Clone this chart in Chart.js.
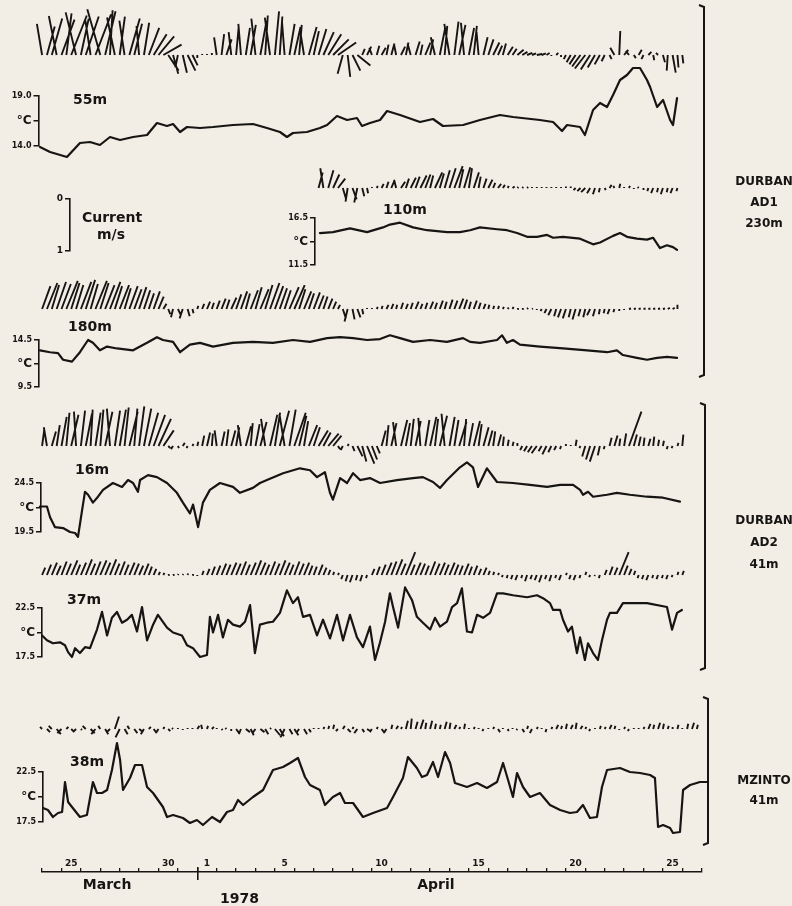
<!DOCTYPE html>
<html>
<head>
<meta charset="utf-8">
<script src="https://cdn.jsdelivr.net/npm/chart.js@4.4.0/dist/chart.umd.min.js"></script>
<style>
  html, body { margin: 0; padding: 0; background: #f2eee6; }
  canvas { display: block; }
</style>
</head>
<body>
<canvas id="fig" width="792" height="906"></canvas>
<script>
// ---- time axis (days counted so that 1 April 00:00 = 31) ----
var dateLabelPos = [24.5, 29.5, 31.5, 35.5, 40.5, 45.5, 50.5, 55.5];
var dateLabels   = ['25', '30', '1', '5', '10', '15', '20', '25'];
var monthPos     = [26.35, 43.3, 33.17];
var monthLabels  = ['March', 'April', ['', '1978']];

// ---- current sticks, cm/s, one every 6 h (u = east, v = north) ----
var v55 = [60, 55, 70, 75,  68, 80, 76, 82,  70, 74, 66, 78,  88, 84, 86, 72,  74, 66, 70, 60,
  56, 62, 52, 40,  36, 20, -30, -36,  -24, -34, -30, -20,  -6, 2, 2, 4,  34, 40, 30, 44,
  54, 60, 52, 58,  70, 66, 76, 72,  84, 74, 64, 60,  54, 58, 50, 54,  46, 50, 44, 40,
  30, 24, -36, -42,  -30, -20, 12, 16,  14, 18, 14, 20,  22, 20, 16, 24,  22, 26, 20, 24,
  30, 34, 50, 56,  60, 64, 58, 62,  52, 56, 44, 34,  30, 24, 18, 22,  16, 12, 10, 6,
  4, 3, 2, 3,  4, -2, 4, -4,  -8, -14, -18, -22,  -26, -28, -24, -18,  -12, -8, 14, 46,
  10, 8, -6, 10,  -8, 6, -10, 4,  -14, -30, -34, -24,  -16];
var u55 = [-10, 15, 20, -15,  25, 10, 30, -20,  15, 25, -10, 30,  -25, 20, 5, -15,  10, -10, 20, 15,
  -5, 10, 20, 25,  30, 35, 20, 10,  -5, 8, 15, 10,  0, 0, 0, 0,  -5, 5, 10, -5,
  5, -5, 8, 10,  -8, 12, 5, -10,  8, 5, -5, 10,  12, 5, -8, 15,  10, 15, 20, 25,
  30, 35, -10, 5,  15, 25, 5, 8,  -5, 5, 8, 4,  6, -4, 8, 5,  -6, 8, 4, 10,
  6, -8, 10, 5,  -10, 8, 12, -6,  10, 6, -4, 8,  10, 12, 8, 6,  10, 8, 12, 10,
  10, 8, 10, 8,  6, 0, 4, 0,  -4, -8, -12, -16,  -20, -18, -14, -10,  -6, 4, -8, 2,
  8, -6, 4, 6,  -4, 6, 2, -4,  4, -2, 6, 2,  2];

var v110 = [30, 38, 34, 26, 18,  -20, -26, -22, -28, -16, -10,  2, 4, 8,
  12, 14, 16, 12,  18, 20, 22, 24,  26, 24, 30, 28,  34, 38, 42, 36,  40, 38, 30, 22,
  18, 16, 10, 8,  6, 4, 3, 2,  2, 2, 2, 2, 2, 2, 2, 2, 2, 3, 3,
  -4, -6, -8, -10, -12, -8,  -4, 6, 4, 8, 2,  4, -2, 2, -4,  -6, -10, -8, -12, -8, -10, -6];
var u110 = [8, -6, 10, 12, 14,  6, -4, 8, -6, 4, 2,  0, 2, 4,
  4, 6, -4, 8,  6, 10, 8, 12,  10, 6, 14, 8,  10, 12, 16, 8,  12, 6, 10, 4,
  6, 8, 4, 6,  4, 2, 4, 2,  2, 2, 0, 0, 0, 0, 0, 0, 0, 0, 0,
  -4, -6, -8, -6, -4, -2,  2, 4, -2, 2, 0,  2, 0, -2, 0,  -2, -4, -2, -4, -2, -4, -2];

var v180 = [44, 50, 46, 52,  48, 54, 50, 46,  52, 56, 48, 54,  50, 46, 52, 44,  46, 40, 44, 38,
  42, 36, 30, 34,  24, 10, -10, -16,  -12, -18, -14, -8,  6, 10, 14, 12,  16, 20, 18, 22,
  28, 34, 30, 36,  42, 38, 46, 50,  44, 40, 36, 42,  46, 38, 34, 30,  32, 26, 24, 20,
  14, 8, -18, -24,  -20, -16, -10, 2,  2, 4, 6, 8,  10, 8, 12, 10,  12, 14, 10, 12,
  14, 12, 16, 14,  18, 16, 20, 18,  14, 16, 12, 10,  8, 6, 6, 4,  3, 4, 2, 2,
  2, 1, -2, -4,  -8, -12, -14, -16,  -18, -16, -20, -14,  -16, -12, -14, -10,  -8, -10, -6, -4,
  -2, 1, 1, 1,  1, 1, 1, 1,  1, 2, 2, 8];
var u180 = [16, 20, 14, 18,  18, 22, 16, 14,  20, 18, 14, 22,  16, 18, 20, 14,  18, 12, 16, 14,
  14, 12, 10, 12,  10, 6, 4, -4,  6, -6, 4, 2,  2, 4, 6, 4,  6, 8, 6, 10,
  10, 12, 8, 14,  12, 16, 14, 18,  16, 14, 12, 18,  20, 12, 14, 10,  12, 10, 8, 8,
  6, 4, 6, -6,  4, 6, 2, 0,  0, 2, 2, 4,  4, 2, 4, 4,  4, 6, 4, 4,
  6, 4, 6, 4,  6, 6, 8, 6,  4, 6, 4, 4,  2, 2, 2, 2,  2, 2, 1, 1,
  2, 2, 0, -2,  -4, -6, -4, -6,  -6, -4, -6, -4,  -4, -6, -4, -2,  -2, -4, -2, 0,
  0, 4, 4, 4,  4, 4, 4, 4,  4, 4, 4, 0];

var v16 = [30, 36, 28, 40,  56, 64, 60, 66,  68, 62, 70, 64,  70, 66, 72, 68,  70, 74, 66, 72,
  76, 72, 64, 60,  52, 30, -4, -6,  -4, 6, -4, 4,  8, 20, 26, 24,  30, 28, 32, 30,
  36, 40, 38, 44,  42, 46, 52, 60,  64, 68, 62, 70,  64, 58, 48, 40,  36, 30, 26, 24,
  20, -6, -8, 4,  -10, -20, -30, -34,  -26, -14, 30, 40,  44, 46, 50, 44,  52, 48, 54, 50,
  56, 52, 58, 62,  56, 50, 46, 52,  44, 48, 42, 36,  30, 28, 22, 18,  12, 8, 6, -8,
  -10, -12, -14, -10,  -16, -12, -8, -6,  4, 2, 12, -4,  -20, -26, -30, -18,  -6, 16, 20, 14,
  24, 66, 22, 18,  16, 14, 18, 12,  10, -6, -4, 6,  22];
var u16 = [4, -6, 8, 6,  10, 6, 14, -4,  8, 12, 4, 10,  6, 14, -6, 10,  12, 8, 16, 6,
  10, 14, 18, 22,  24, 20, 4, -4,  2, 4, -2, 2,  2, 4, 6, 2,  -4, 6, 4, 8,
  6, -6, 10, 4,  8, 12, -8, 14,  10, 18, -10, 12,  22, 14, 8, 16,  12, 18, 14, 20,
  16, 4, -4, 2,  4, 10, 8, 14,  10, 6, 8, 4,  10, -6, 12, 8,  6, 10, -4, 8,
  12, 6, 14, -6,  10, 8, 14, 4,  8, 12, 6, 10,  8, 4, 6, 2,  2, 2, 0, -4,
  -6, -8, -10, -6,  -8, -6, -4, -2,  0, 0, 2, -2,  -6, -8, -10, -4,  -2, 4, 6, 2,
  4, 24, 6, 4,  2, 4, 2, 2,  2, -2, -2, 2,  2];

var v37 = [14, 20, 24, 18,  26, 22, 28, 20,  24, 30, 22, 26,  28, 24, 30, 22,  26, 20, 24, 22,
  18, 22, 16, 12,  6, 4, 2, 2,  2, 2, 3, 2,  -2, 8, 12, 16,  18, 22, 20, 24,
  22, 26, 20, 24,  28, 24, 20, 26,  22, 28, 24, 20,  26, 22, 24, 18,  16, 20, 14, 10,
  6, 4, -8, -12,  -14, -10, -12, -6,  12, 16, 20, 24,  26, 30, 22, 44,  20, 24, 22, 18,
  26, 22, 24, 20,  24, 20, 18, 22,  16, 18, 12, 14,  8, 6, 4, -4,  -6, -8, -10, -6,
  -12, -8, -10, -14,  -8, -12, -6, -10,  4, -8, -10, -6,  6, -4, -2, -6,  10, 16, 14, 44,
  18, 12, 8, -6,  -8, -10, -6, -8,  -6, -8, -4, 6,  8];
var u37 = [6, 8, 10, 8,  10, 9, 12, 8,  10, 12, 9, 10,  12, 10, 12, 9,  10, 8, 10, 9,
  8, 9, 6, 5,  3, 2, 1, 1,  1, 1, 1, 1,  0, 3, 5, 6,  7, 9, 8, 10,
  9, 10, 8, 10,  11, 10, 8, 10,  9, 11, 10, 8,  10, 9, 10, 7,  6, 8, 6, 4,
  2, 2, -3, -4,  -5, -3, -4, -2,  5, 6, 8, 10,  10, 12, 9, 18,  8, 10, 9, 7,
  10, 9, 10, 8,  10, 8, 7, 9,  6, 7, 5, 6,  3, 2, 2, -2,  -2, -3, -4, -2,
  -4, -3, -4, -5,  -3, -4, -2, -4,  2, -3, -4, -2,  2, -2, -1, -2,  4, 6, 6, 18,
  7, 5, 3, -2,  -3, -4, -2, -3,  -2, -3, -2, 2,  3];

var v38 = [4, -6, 6, -10,  -8, 4, -6, -4,  -2, 6, -8, -10,  6, -10, -6, 24,  -16, -10, 6, -8,
  -6, -10, 4, -8,  -6, 4, -4, 2,  2, -2, 2, 2,  6, 8, 6, 4,  2, -2, 2, -4,
  -8, -10, -6, -12,  -8, -6, -10, 2,  -12, -14, -16, -10,  -12, -8, -10, -6,  2, 2, 4, 6,
  8, -4, 6, -6,  4, -8, -6, -4,  -6, 4, -8, -6,  8, 6, 4, 16,  20, 14, 18, 12,
  16, 10, 8, 14,  12, 8, 4, 10,  2, 4, 2, -4,  2, 4, -6, 2,  -4, 2, -2, -6,
  6, -8, 4, 2,  -6, 4, 8, 6,  10, 8, 12, 6,  4, -4, 2, 6,  4, 8, 6, -2,
  4, -4, 2, 2,  4, 10, 8, 12,  10, 6, 4, 8,  2, 10, 12, 8];
var u38 = [-4, 6, -6, 8,  -8, 4, 6, -4,  2, -6, 8, -8,  -4, 6, -6, 8,  -8, 6, -4, 6,
  8, -6, 4, 6,  -4, 2, 4, -2,  0, 0, 0, 0,  4, -2, 2, 4,  0, 2, -2, 0,
  6, -4, 8, 6,  -6, 8, 6, 2,  10, 8, -8, 6,  8, -6, 6, 4,  0, 0, 2, 2,
  2, -4, 4, 6,  2, -6, 4, 6,  -4, 2, 6, -4,  2, 4, 2, 4,  2, 4, 6, 2,
  4, 2, 2, 4,  2, 4, 2, 2,  0, 2, 0, -2,  0, 2, 4, 0,  2, 0, -2, 4,
  2, -4, 2, 0,  -2, 2, 4, 2,  2, 4, 2, 4,  2, -2, 0, 2,  2, 4, 2, 0,
  2, -2, 0, 0,  2, 4, 2, 4,  2, 2, 0, 2,  0, 2, 4, 2];

// ---- temperature records: day and degC ----
var t55 = [22.89, 23.41, 24.28, 24.95, 25.47, 25.98, 26.50, 27.02, 27.69, 28.41, 28.92, 29.44, 29.75,
  30.11, 30.47, 31.14, 31.81, 32.84, 33.87, 34.59, 35.26, 35.62, 35.93, 36.65, 37.32, 37.69, 38.20,
  38.72, 39.23, 39.49, 39.90, 40.42, 40.78, 41.45, 42.48, 43.15, 43.66, 44.70, 45.57, 46.60, 47.27,
  48.66, 49.34, 49.80, 50.06, 50.73, 50.98, 51.40, 51.76, 52.12, 52.43, 52.79, 53.15, 53.46, 53.82,
  54.18, 54.34, 54.70, 55.01, 55.37, 55.52, 55.73];
var temp55 = [13.9, 13.4, 12.9, 14.3, 14.4, 14.1, 14.9, 14.6, 14.9, 15.1, 16.3, 16.0, 16.2,
  15.4, 15.9, 15.8, 15.9, 16.1, 16.2, 15.8, 15.4, 14.9, 15.3, 15.4, 15.8, 16.1, 17.0,
  16.6, 16.8, 16.0, 16.3, 16.6, 17.5, 17.1, 16.4, 16.7, 16.0, 16.1, 16.6, 17.1, 16.9,
  16.6, 16.4, 15.5, 16.1, 15.9, 15.1, 17.6, 18.3, 17.9, 19.1, 20.6, 21.1, 21.8, 21.8,
  20.6, 19.9, 17.9, 18.6, 16.6, 16.1, 18.8];

var t110 = [37.32, 37.99, 38.87, 39.75, 40.57, 40.93, 41.45, 42.12, 42.84, 43.87, 44.54, 45.06,
  45.57, 46.45, 46.96, 47.48, 48.00, 48.51, 49.03, 49.34, 49.85, 50.73, 51.40, 51.76, 52.43,
  52.79, 53.15, 53.66, 54.18, 54.49, 54.85, 55.21, 55.52, 55.73];
var temp110 = [14.9, 15.0, 15.4, 15.0, 15.5, 15.8, 16.0, 15.5, 15.2, 15.0, 15.0, 15.2,
  15.5, 15.3, 15.2, 14.9, 14.5, 14.5, 14.7, 14.4, 14.5, 14.3, 13.7, 13.9, 14.6,
  14.9, 14.5, 14.3, 14.2, 14.4, 13.3, 13.6, 13.4, 13.1];

var t180 = [22.89, 23.41, 23.82, 24.08, 24.54, 24.95, 25.37, 25.62, 25.98, 26.35, 26.86, 27.69,
  28.41, 28.92, 29.23, 29.75, 30.11, 30.62, 31.14, 31.81, 32.84, 33.87, 34.90, 35.93, 36.81,
  37.69, 38.36, 39.03, 39.75, 40.42, 40.93, 41.45, 42.12, 43.00, 43.87, 44.70, 45.06, 45.57,
  46.45, 46.71, 46.96, 47.27, 47.63, 48.66, 49.85, 51.09, 52.12, 52.63, 52.94, 53.66, 54.18,
  54.70, 55.21, 55.73];
var temp180 = [13.4, 13.2, 13.1, 12.4, 12.2, 13.2, 14.5, 14.2, 13.4, 13.8, 13.6, 13.4,
  14.2, 14.8, 14.5, 14.3, 13.2, 14.0, 14.2, 13.8, 14.2, 14.3, 14.2, 14.5, 14.3,
  14.7, 14.8, 14.7, 14.5, 14.6, 15.0, 14.7, 14.3, 14.5, 14.3, 14.7, 14.3, 14.2,
  14.5, 15.0, 14.2, 14.5, 14.0, 13.8, 13.6, 13.4, 13.2, 13.4, 12.9, 12.6, 12.4,
  12.6, 12.7, 12.6];

var t16 = [22.89, 23.25, 23.41, 23.66, 24.08, 24.44, 24.70, 24.85, 25.06, 25.21, 25.37, 25.62,
  25.88, 26.14, 26.65, 27.12, 27.43, 27.69, 27.94, 28.05, 28.46, 28.92, 29.44, 29.95, 30.26,
  30.62, 30.78, 31.04, 31.29, 31.65, 32.17, 32.84, 33.20, 33.87, 34.23, 34.59, 35.42, 36.29,
  36.81, 37.17, 37.58, 37.84, 37.99, 38.36, 38.72, 39.03, 39.39, 39.90, 40.42, 41.29, 42.12,
  42.63, 43.15, 43.51, 43.87, 44.54, 44.90, 45.21, 45.47, 45.93, 46.45, 47.27, 48.15, 49.03,
  49.70, 50.37, 50.73, 50.88, 51.14, 51.40, 52.12, 52.63, 53.30, 54.18, 55.01, 55.88];
var temp16 = [22.1, 22.1, 21.0, 20.0, 19.9, 19.5, 19.4, 19.0, 21.7, 23.6, 23.3, 22.5,
  23.1, 23.8, 24.5, 24.1, 24.8, 24.5, 23.6, 24.8, 25.3, 25.1, 24.5, 23.5, 22.5,
  21.4, 22.3, 20.0, 22.5, 23.8, 24.5, 24.1, 23.5, 24.0, 24.5, 24.8, 25.5, 26.0,
  25.8, 25.1, 25.6, 23.5, 22.8, 25.0, 24.5, 25.5, 24.8, 25.0, 24.5, 24.8, 25.0,
  25.1, 24.6, 24.0, 24.8, 26.1, 26.6, 26.1, 24.1, 26.0, 24.6, 24.5, 24.3, 24.1,
  24.3, 24.3, 23.8, 23.3, 23.6, 23.1, 23.3, 23.5, 23.3, 23.1, 23.0, 22.6];

var t37 = [23.00, 23.25, 23.56, 23.92, 24.18, 24.34, 24.54, 24.70, 24.95, 25.21,
  25.47, 25.83, 26.09, 26.35, 26.60, 26.86, 27.12, 27.38, 27.63, 27.89,
  28.15, 28.41, 28.72, 28.97, 29.44, 29.75, 30.21, 30.47, 30.78, 31.14,
  31.50, 31.65, 31.81, 32.07, 32.32, 32.58, 32.84, 33.20, 33.46, 33.72,
  33.97, 34.23, 34.59, 34.90, 35.26, 35.62, 35.93, 36.19, 36.45, 36.81,
  37.17, 37.48, 37.84, 38.20, 38.51, 38.87, 39.23, 39.54, 39.90, 40.16,
  40.42, 40.68, 40.93, 41.09, 41.35, 41.71, 42.07, 42.32, 42.63, 43.00,
  43.25, 43.51, 43.87, 44.13, 44.39, 44.64, 44.90, 45.16, 45.42, 45.73,
  46.09, 46.45, 46.76, 47.27, 48.00, 48.51, 48.82, 49.18, 49.34, 49.70,
  49.85, 50.11, 50.31, 50.57, 50.73, 50.98, 51.14, 51.40, 51.65, 51.86,
  52.12, 52.27, 52.63, 52.94, 54.18, 55.21, 55.47, 55.73, 55.98];
var temp37 = [19.7, 19.2, 18.9, 19.0, 18.7, 18.0, 17.5, 18.4, 17.9, 18.5,
  18.4, 20.3, 22.1, 19.7, 21.5, 22.1, 21.0, 21.3, 21.8, 20.1,
  22.6, 19.2, 20.8, 21.8, 20.5, 20.0, 19.7, 18.7, 18.4, 17.5,
  17.7, 21.6, 20.0, 21.8, 19.5, 21.3, 20.8, 20.6, 21.1, 22.8,
  17.9, 20.8, 21.0, 21.1, 22.0, 24.3, 23.0, 23.6, 21.6, 21.8,
  19.7, 21.3, 19.4, 21.8, 19.2, 21.8, 19.5, 18.5, 20.6, 17.2,
  19.0, 21.1, 24.0, 22.6, 20.5, 24.6, 23.3, 21.6, 21.0, 20.3,
  21.5, 20.6, 21.1, 22.6, 23.0, 24.5, 20.1, 20.0, 21.8, 21.5,
  22.0, 24.0, 24.0, 23.8, 23.6, 23.8, 23.5, 23.0, 22.3, 22.3,
  21.3, 20.1, 20.6, 17.9, 19.5, 17.2, 18.9, 17.9, 17.2, 19.2,
  21.3, 22.0, 22.0, 23.0, 23.0, 22.6, 20.3, 22.0, 22.3];

var t38 = [23.05, 23.30, 23.56, 23.82, 24.03, 24.18, 24.34, 24.54, 24.95, 25.31,
  25.62, 25.83, 26.09, 26.35, 26.60, 26.86, 27.02, 27.17, 27.53, 27.79,
  28.15, 28.41, 28.72, 29.23, 29.44, 29.75, 30.26, 30.62, 30.98, 31.29,
  31.76, 32.17, 32.53, 32.84, 33.10, 33.36, 33.87, 34.39, 34.90, 35.42,
  35.78, 36.19, 36.55, 36.81, 37.32, 37.58, 37.99, 38.36, 38.61, 39.03,
  39.54, 40.06, 40.78, 41.09, 41.60, 41.86, 42.32, 42.58, 42.84, 43.15,
  43.41, 43.77, 44.03, 44.28, 44.90, 45.42, 45.93, 46.45, 46.76, 47.02,
  47.27, 47.48, 47.79, 48.15, 48.66, 49.18, 49.70, 50.21, 50.57, 50.88,
  51.24, 51.60, 51.86, 52.12, 52.79, 53.30, 53.82, 54.34, 54.59, 54.75,
  55.01, 55.37, 55.52, 55.88, 56.04, 56.40, 56.91, 57.33];
var temp38 = [18.9, 18.7, 18.0, 18.4, 18.5, 21.5, 19.5, 19.0, 18.0, 18.2,
  21.5, 20.4, 20.4, 20.7, 22.7, 25.4, 23.7, 20.7, 21.9, 23.2,
  23.2, 21.0, 20.4, 19.0, 18.0, 18.2, 17.9, 17.4, 17.7, 17.2,
  18.0, 17.5, 18.5, 18.7, 19.7, 19.2, 20.0, 20.7, 22.7, 23.0,
  23.4, 23.9, 22.0, 21.2, 20.7, 19.2, 20.0, 20.4, 19.4, 19.4,
  18.0, 18.4, 18.9, 20.0, 21.9, 24.0, 22.9, 22.0, 22.2, 23.5,
  22.0, 24.5, 23.4, 21.4, 21.0, 21.4, 20.9, 21.5, 23.4, 21.7,
  20.0, 22.4, 21.0, 20.0, 20.4, 19.2, 18.7, 18.4, 18.5, 19.2,
  17.9, 18.0, 21.0, 22.7, 22.9, 22.5, 22.4, 22.2, 21.9, 17.0,
  17.2, 16.9, 16.4, 16.5, 20.7, 21.2, 21.5, 21.5];

var depthLabels = ['55m', '110m', '180m', '16m', '37m', '38m'];
var stations = [['DURBAN', 'AD1', '230m'], ['DURBAN', 'AD2', '41m'], ['MZINTO', '41m']];

var panels = [
  {key: '55',  start: 23,    u: u55,  v: v55,  t: t55,  temp: temp55,  lo: 14.0, hi: 19.0},
  {key: '110', start: 37.25, u: u110, v: v110, t: t110, temp: temp110, lo: 11.5, hi: 16.5},
  {key: '180', start: 23,    u: u180, v: v180, t: t180, temp: temp180, lo: 9.5,  hi: 14.5},
  {key: '16',  start: 23,    u: u16,  v: v16,  t: t16,  temp: temp16,  lo: 19.5, hi: 24.5},
  {key: '37',  start: 23,    u: u37,  v: v37,  t: t37,  temp: temp37,  lo: 17.5, hi: 22.5},
  {key: '38',  start: 23,    u: u38,  v: v38,  t: t38,  temp: temp38,  lo: 17.5, hi: 22.5}
];

// ---- layout (pixels) ----
var INK = '#171513';
var FONT = "'DejaVu Sans', sans-serif";
var STEP = 0.25;        // days between sticks
var PX_MS = 52;         // pixels for 1 m/s
var X0 = 42.1, X1 = 701.7, AXIS_Y = 872;
var PX_DAY = (X1 - X0) / 34;

var place = {
  '55':  {base: 55,  bx: 38.5, top: 96,  bottom: 146, lx: 90,  ly: 100},
  '110': {base: 188, bx: 315,  top: 218, bottom: 265, lx: 405, ly: 210},
  '180': {base: 309, bx: 39,   top: 340, bottom: 387, lx: 90,  ly: 327},
  '16':  {base: 446, bx: 41,   top: 483, bottom: 532, lx: 92,  ly: 470},
  '37':  {base: 575, bx: 42,   top: 608, bottom: 657, lx: 84,  ly: 600},
  '38':  {base: 729, bx: 43,   top: 772, bottom: 822, lx: 87,  ly: 762}
};
var brackets = [
  {x: 704, top: 5,   bottom: 377, tx: 764, ty: [182, 203, 224]},
  {x: 705, top: 403, bottom: 670, tx: 764, ty: [521, 543, 565]},
  {x: 708, top: 697, bottom: 845, tx: 764, ty: [781, 801]}
];

var BOX = {
  x:   {left: X0, right: X1, top: AXIS_Y - 20, bottom: AXIS_Y},
  xl:  {left: X0, right: X1, top: AXIS_Y - 20, bottom: AXIS_Y},
  xb:  {left: X0, right: X1, top: AXIS_Y - 12, bottom: AXIS_Y + 8},
  xm:  {left: X0, right: X1, top: AXIS_Y, bottom: 905},
  cur: {left: 30, right: 70, top: 199, bottom: 199 + PX_MS}
};
panels.forEach(function (p) {
  var pl = place[p.key];
  BOX['s' + p.key] = {left: 0, right: 0, top: pl.base - PX_MS, bottom: pl.base + PX_MS};
  BOX['y' + p.key] = {left: pl.bx - 40, right: pl.bx, top: pl.top, bottom: pl.bottom};
});

// ---- datasets ----
function stickPoints(p) {
  var pts = [];
  p.v.forEach(function (vv, i) {
    var t = p.start + i * STEP;
    var du = (p.u[i] || 0) / 100 * PX_MS / PX_DAY;
    pts.push({x: t, y: 0}, {x: t + du, y: vv / 100}, {x: t, y: null});
  });
  return pts;
}
function tempPoints(p) {
  var n = Math.min(p.t.length, p.temp.length);
  var pts = [];
  for (var i = 0; i < n; i++) pts.push({x: p.t[i], y: p.temp[i]});
  return pts;
}

var datasets = [];
var scales = {};

function zeroWidth(s) { s.width = 0; }
function zeroHeight(s) { s.height = 0; }

panels.forEach(function (p) {
  datasets.push({
    label: 'current ' + p.key + 'm', data: stickPoints(p), yAxisID: 's' + p.key,
    borderColor: INK, borderWidth: 1.9, pointRadius: 0, clip: false, tension: 0
  });
  datasets.push({
    label: 'temperature ' + p.key + 'm', data: tempPoints(p), yAxisID: 'y' + p.key,
    borderColor: INK, borderWidth: 2.2, pointRadius: 0, clip: false, tension: 0,
    borderJoinStyle: 'round', borderCapStyle: 'round'
  });

  scales['s' + p.key] = {type: 'linear', position: 'left', display: false, min: -1, max: 1, afterFit: zeroWidth};

  var mid = (p.lo + p.hi) / 2;
  scales['y' + p.key] = {
    type: 'linear', position: 'left', min: p.lo, max: p.hi,
    afterFit: zeroWidth,
    afterBuildTicks: function (s) { s.ticks = [{value: p.lo}, {value: mid}, {value: p.hi}]; },
    grid: {drawOnChartArea: false, tickLength: 5, color: INK, lineWidth: 1.5},
    border: {color: INK, width: 1.6},
    ticks: {
      padding: 2, color: INK, autoSkip: false,
      callback: function (val) { return val === mid ? '°C' : val.toFixed(1); },
      font: function (c) {
        return (c.tick && c.tick.value === mid)
          ? {family: FONT, size: 12, weight: 'bold'}
          : {family: FONT, size: 8, weight: 'bold'};
      }
    }
  };
});

scales.x = {
  type: 'linear', position: 'top', min: 23, max: 57, afterFit: zeroHeight,
  afterBuildTicks: function (s) {
    var tk = [];
    for (var d = 23; d <= 57; d++) tk.push({value: d});
    s.ticks = tk;
  },
  grid: {drawOnChartArea: false, tickLength: 4, color: INK, lineWidth: 1.3},
  border: {color: INK, width: 1.6},
  ticks: {display: false, autoSkip: false}
};
scales.xb = {
  type: 'linear', position: 'top', min: 23, max: 57, afterFit: zeroHeight,
  afterBuildTicks: function (s) { s.ticks = [{value: 31}]; },
  grid: {drawOnChartArea: false, tickLength: 13, color: INK, lineWidth: 1.6},
  border: {display: false},
  ticks: {display: false}
};
scales.xl = {
  type: 'linear', position: 'top', min: 23, max: 57, afterFit: zeroHeight,
  afterBuildTicks: function (s) { s.ticks = dateLabelPos.map(function (v) { return {value: v}; }); },
  grid: {display: false, drawTicks: false},
  border: {display: false},
  ticks: {
    autoSkip: false, maxRotation: 0, padding: 3, color: INK,
    font: {family: FONT, size: 9, weight: 'bold'},
    callback: function (v, i) { return dateLabels[i]; }
  }
};
scales.xm = {
  type: 'linear', position: 'bottom', min: 23, max: 57, afterFit: zeroHeight,
  afterBuildTicks: function (s) { s.ticks = monthPos.map(function (v) { return {value: v}; }); },
  grid: {display: false, drawTicks: false},
  border: {display: false},
  ticks: {
    autoSkip: false, maxRotation: 0, padding: 6, color: INK,
    font: {family: FONT, size: 14, weight: 'bold', lineHeight: 1.0},
    callback: function (v, i) { return monthLabels[i]; }
  }
};
scales.cur = {
  type: 'linear', position: 'left', min: 0, max: 1, reverse: true, afterFit: zeroWidth,
  afterBuildTicks: function (s) { s.ticks = [{value: 0}, {value: 1}]; },
  grid: {drawOnChartArea: false, tickLength: 5, color: INK, lineWidth: 1.5},
  border: {color: INK, width: 1.6},
  ticks: {padding: 2, color: INK, font: {family: FONT, size: 9, weight: 'bold'},
    callback: function (v) { return String(v); }}
};

// put every scale where it sits on the page
var placeScales = {
  id: 'placeScales',
  afterLayout: function (chart) {
    Object.keys(BOX).forEach(function (id) {
      var s = chart.scales[id], b = BOX[id];
      if (!s) return;
      s.left = b.left; s.right = b.right; s.top = b.top; s.bottom = b.bottom;
      s.width = b.right - b.left; s.height = b.bottom - b.top;
      s.configure();
    });
  }
};

// labels and the station brackets
var annotate = {
  id: 'annotate',
  afterDraw: function (chart) {
    var c = chart.ctx;
    c.save();
    c.fillStyle = INK; c.strokeStyle = INK;
    c.textAlign = 'center'; c.textBaseline = 'middle';

    c.font = 'bold 14px ' + FONT;
    panels.forEach(function (p, i) {
      c.fillText(depthLabels[i], place[p.key].lx, place[p.key].ly);
    });
    c.fillText('Current', 112, 218);
    c.fillText('m/s', 111, 235);

    c.lineWidth = 2;
    c.font = 'bold 12px ' + FONT;
    brackets.forEach(function (b, i) {
      c.beginPath();
      c.moveTo(b.x - 5, b.top);
      c.lineTo(b.x, b.top + 2);
      c.lineTo(b.x, b.bottom - 2);
      c.lineTo(b.x - 5, b.bottom);
      c.stroke();
      stations[i].forEach(function (txt, j) { c.fillText(txt, b.tx, b.ty[j]); });
    });
    c.restore();
  }
};

var chart = new Chart(document.getElementById('fig'), {
  type: 'line',
  data: {datasets: datasets},
  options: {
    responsive: false,
    animation: false,
    devicePixelRatio: 1,
    events: [],
    layout: {autoPadding: false, padding: 0},
    plugins: {legend: {display: false}, tooltip: {enabled: false}},
    scales: scales
  },
  plugins: [placeScales, annotate]
});
</script>
</body>
</html>
